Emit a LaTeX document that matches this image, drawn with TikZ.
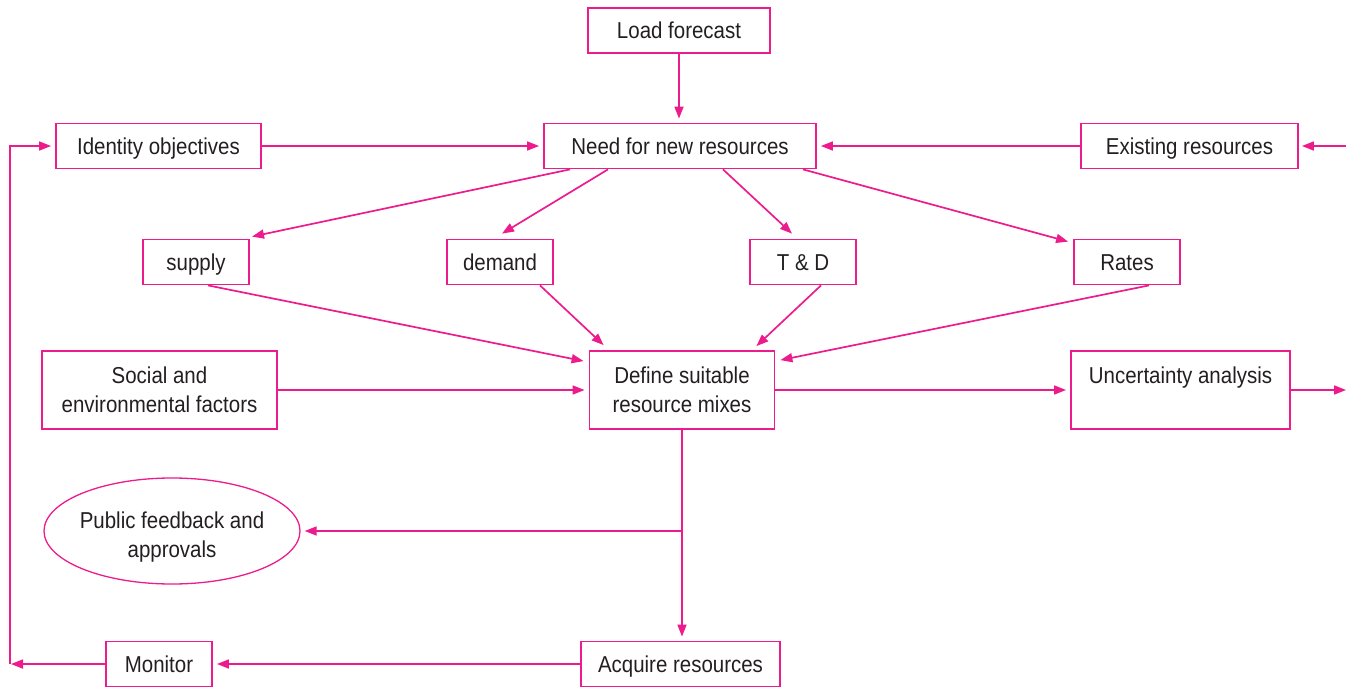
\documentclass[tikz,border=0pt]{standalone}
\usepackage{fontspec}
\setmainfont{Liberation Sans}[FakeStretch=0.89]
\usetikzlibrary{arrows.meta,shapes.geometric,calc}
\definecolor{pk}{HTML}{EC1C8C}
\definecolor{tx}{HTML}{231F20}
\begin{document}
\begin{tikzpicture}[x=1pt,y=-1pt,
  box/.style={draw=pk,line width=1.8pt,inner sep=0pt,text=tx,
    font=\fontsize{23}{29}\selectfont,align=center},
  one/.style={box,text height=16.5pt,text depth=0pt,minimum height=45},
  oval/.style={ellipse,draw=pk,line width=1.3pt,inner sep=0pt},
  conn/.style={draw=pk,line width=1.7pt,-{Triangle[length=12pt,width=9pt]}},
  gap/.style={shorten >=4pt}]
\useasboundingbox (0,0) rectangle (1346,687);
\node[one,minimum width=182] (load) at (679,30.5) {Load forecast};
\node[one,minimum width=272] (need) at (680,146) {Need for new resources};
\node[one,minimum width=205] (ident) at (158.5,146) {Identity objectives};
\node[one,minimum width=217] (exist) at (1189.5,146) {Existing resources};
\node[one,minimum width=106] (supply) at (196,262) {supply};
\node[one,minimum width=106] (demand) at (500,262) {demand};
\node[one,minimum width=106] (td) at (803,262) {T \& D};
\node[one,minimum width=106] (rates) at (1127,262) {Rates};
\node[box,minimum width=235,minimum height=78] (social) at (159.5,390) {Social and\\environmental factors};
\node[box,minimum width=185,minimum height=78] (define) at (682,390) {Define suitable\\resource mixes};
\node[box,minimum width=219,minimum height=78] (unc) at (1180.5,390) {Uncertainty analysis\\~};
\node[oval,minimum width=256,minimum height=106,
  label={[yshift=-6pt,text=tx,font=\fontsize{23}{29}\selectfont,align=center]center:Public feedback and\\approvals}] (pub) at (172,531) {};
\node[one,minimum width=106] (monitor) at (159,664) {Monitor};
\node[one,minimum width=199] (acquire) at (680.5,664) {Acquire resources};
\coordinate (inR) at (1346,146);
\coordinate (outR) at (1346,390);
\coordinate (lc) at (10,664);
\coordinate (br) at (define.south |- pub);
% connectors
\draw[conn,gap] (load.south) -- (load.south |- need.north);
\draw[conn,gap] (ident) -- (need);
\draw[conn,gap] (exist) -- (need);
\draw[conn,shorten >=3pt] (inR) -- (exist);
\draw[conn] ($(need.south)+(-110,0)$) -- ($(supply.north)+(56,-2)$);
\draw[conn] ($(need.south)+(-72,0)$) -- ($(demand.north)+(2,-5)$);
\draw[conn] ($(need.south)+(43,0)$) -- ($(td.north)+(-11,-5)$);
\draw[conn] ($(need.south)+(123,0)$) -- ($(rates.north west)+(-5,3)$);
\draw[conn] ($(supply.south)+(12,0)$) -- ($(define.north west)+(-5,11)$);
\draw[conn] ($(demand.south)+(40,0)$) -- ($(define.north west)+(15,-5)$);
\draw[conn] ($(td.south)+(18,0)$) -- ($(define.north east)+(-19,-4)$);
\draw[conn] ($(rates.south)+(22,0)$) -- ($(define.north east)+(5,10)$);
\draw[conn,gap] (social) -- (define);
\draw[conn,gap] (define) -- (unc);
\draw[conn] (unc) -- (outR);
\draw[conn,gap] (define.south) -- (define.south |- acquire.north);
\draw[conn,gap] (br) -- (pub.east);
\draw[conn,gap] (acquire) -- (monitor);
\draw[conn,shorten >=1pt] (monitor) -- (lc);
\draw[conn,gap] (lc) -- (lc |- ident) -- (ident);
\end{tikzpicture}
\end{document}
